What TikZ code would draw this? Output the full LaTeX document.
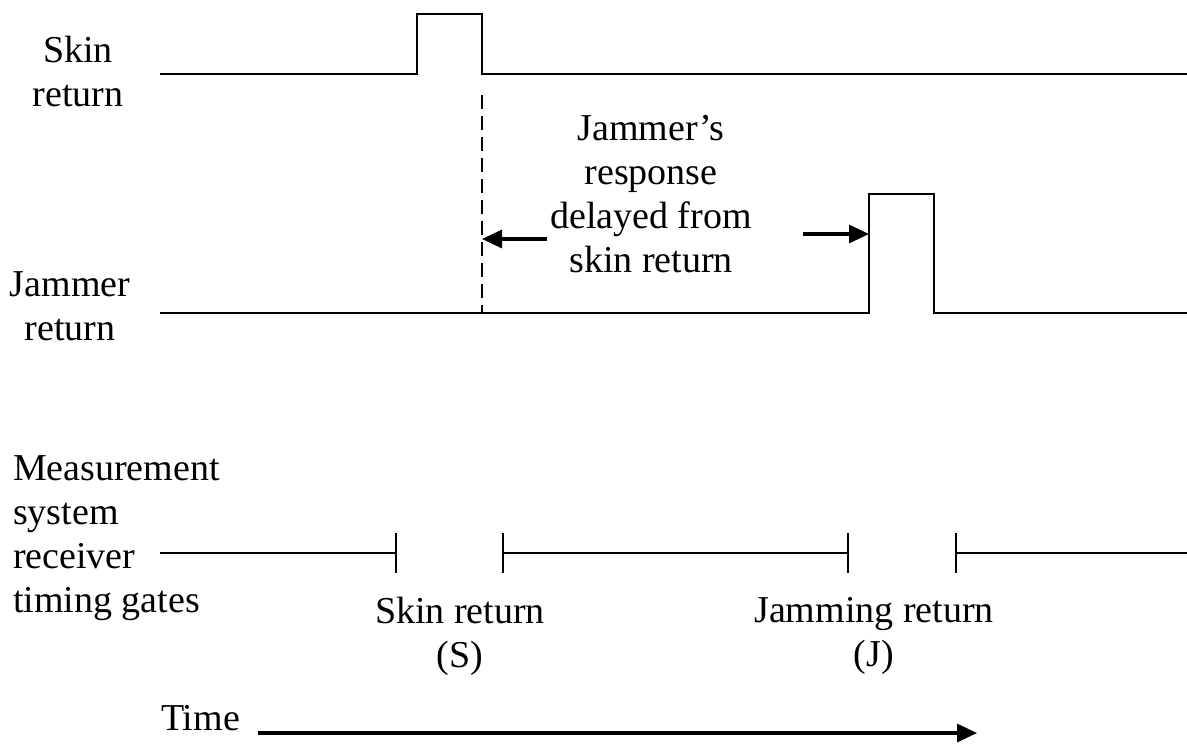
\documentclass[tikz,border=0pt]{standalone}
\usepackage{fontspec}
\setmainfont{Liberation Serif}
\usetikzlibrary{arrows.meta}
\begin{document}
\begin{tikzpicture}[x=0.5pt,y=-0.5pt,line width=1pt,
  lbl/.style={inner sep=0pt,align=center,font=\fontsize{19pt}{22pt}\selectfont},
  tip/.style={-{Triangle[length=10pt,width=9pt]},line width=1.6pt},
  gate/.style={line cap=butt}]
% waveforms drawn in pixel units of the picture
\useasboundingbox (0,0) rectangle (1187,745);
\coordinate (skinfall) at (482,74);
\coordinate (jamrise) at (869,313);
\draw (160,74) -- (417,74) -- (417,14) -- (482,14) -- (skinfall) -- (1187,74);
\draw[dash pattern=on 7pt off 3.5pt] (482,95) -- (482,313);
\draw (160,313) -- (jamrise) -- (869,194) -- (934,194) -- (934,313) -- (1187,313);
\node[lbl] (skinlbl) at (78,71) {Skin\\return};
\node[lbl] (jamlbl) at (70,306) {Jammer\\return};
\node[lbl] (delay) at (651,194) {Jammer's\\response\\delayed from\\skin return};
\coordinate (la) at (547,239);
\coordinate (lb) at (482,239);
\coordinate (ra) at (803,234);
\coordinate (rb) at (869,234);
\draw[tip] (la) -- (lb);
\draw[tip] (ra) -- (rb);
% receiver timing gates
\node[lbl,align=left,anchor=west] (meas) at (12,538)
  {Measurement\\system\\receiver\\timing gates};
\foreach \xa/\xb/\nm in {160/396/ga,503/848/gb,956/1187/gc}
  \draw (\xa,553) coordinate (\nm0) -- (\xb,553) coordinate (\nm1);
\foreach \xt in {396,503,848,956}
  \draw[gate] (\xt,533) -- (\xt,573);
\node[lbl] (sgate) at (460,636) {Skin return\\(S)};
\node[lbl] (jgate) at (874,636) {Jamming return\\(J)};
\node[lbl,anchor=west] (time) at (160,718) {Time};
\coordinate (ta) at (258,733);
\coordinate (tb) at (977,733);
\draw[tip] (ta) -- (tb);
\end{tikzpicture}
\end{document}
